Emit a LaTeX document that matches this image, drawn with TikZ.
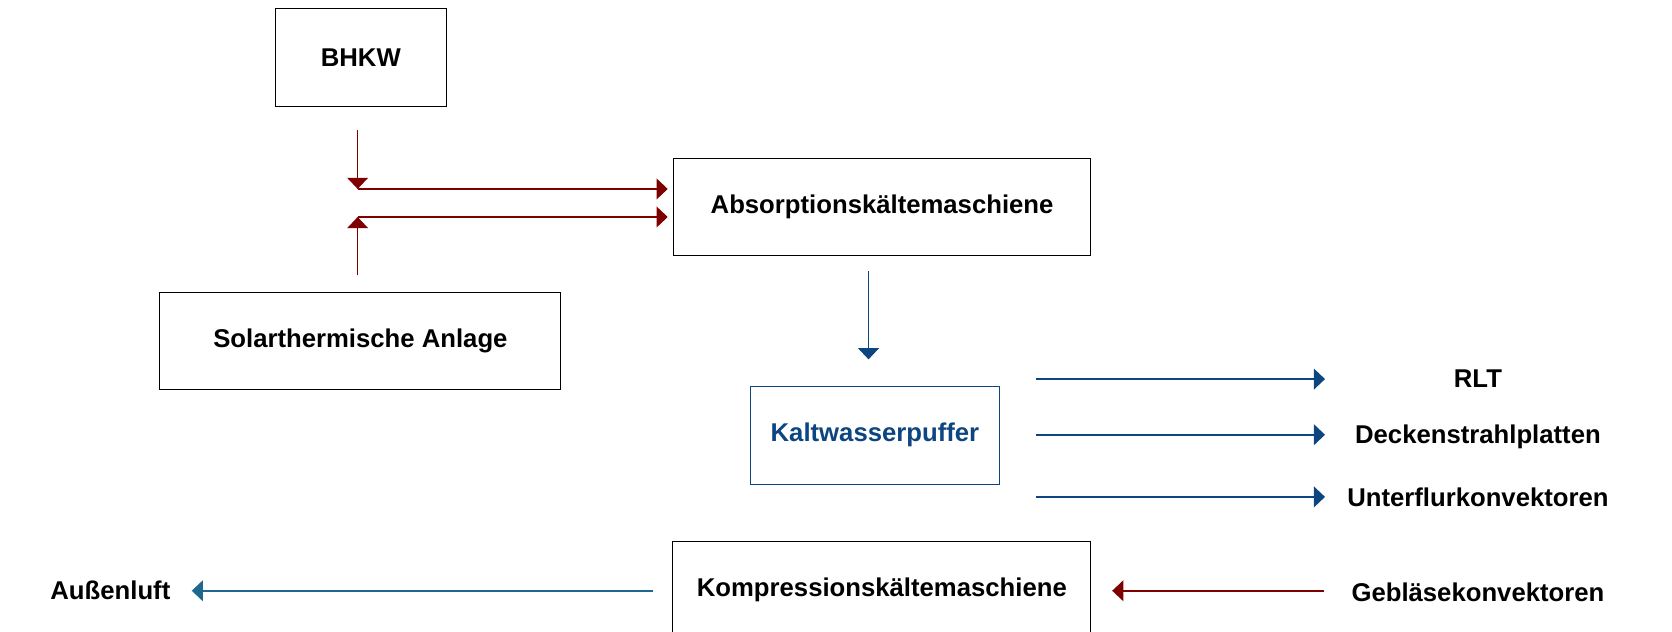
\documentclass[tikz,border=0pt]{standalone}
\usepackage{fontspec}
\setmainfont{Liberation Sans}
\usetikzlibrary{arrows.meta}
\definecolor{dred}{HTML}{7F0000}
\definecolor{dblue}{HTML}{0C4580}
\definecolor{tealb}{HTML}{1E6890}
\begin{document}
\begin{tikzpicture}[x=1pt,y=-1pt,
  box/.style={draw=black,line width=0.9pt,rectangle,inner sep=0pt,font=\fontsize{24.1}{29}\selectfont\bfseries},
  lbl/.style={inner sep=0pt,font=\fontsize{24.1}{29}\selectfont\bfseries},
  redarr/.style={draw=dred,line width=1.5pt,-{Triangle[length=10.5pt,width=19.5pt]}},
  bluearr/.style={draw=dblue,line width=1.5pt,-{Triangle[length=10.5pt,width=19.5pt]}},
  tealarr/.style={draw=tealb,line width=1.5pt,-{Triangle[length=10.5pt,width=19.5pt]}}]
\useasboundingbox (0,0) rectangle (1568,592);
\node[box,minimum width=160.4pt,minimum height=91.9pt] (bhkw) at (338.4,53.8) {BHKW};
\node[box,minimum width=391.5pt,minimum height=91.5pt] (abs) at (827.2,194.2) {Absorptionskältemaschiene};
\node[box,minimum width=376pt,minimum height=91pt] (solar) at (338,319.5) {Solarthermische Anlage};
\node[box,draw=dblue,text=dblue,minimum width=233pt,minimum height=92pt] (kwp) at (820.5,408) {Kaltwasserpuffer};
\node[box,minimum width=392pt,minimum height=91pt] (komp) at (827,553.5) {};
\node[lbl] (kompt) at (827,553.5) {Kompressionskältemaschiene};
\node[lbl] (rlt) at (1386,355.5) {RLT};
\node[lbl] (decke) at (1386,409.5) {Deckenstrahlplatten};
\node[lbl] (unter) at (1386,466) {Unterflurkonvektoren};
\node[lbl] (gebl) at (1386,555.5) {Gebläsekonvektoren};
\node[lbl] (aussen) at (103.5,554) {Außenluft};
% red connectors
\coordinate (r1s) at (335.4,122);
\coordinate (r1e) at (335.4,177.2);
\coordinate (h1e) at (626.2,177.2);
\coordinate (r2s) at (335.4,258.2);
\coordinate (r2e) at (335.4,203.5);
\coordinate (h2e) at (626.2,203.5);
\draw[redarr] (r1s) -- (r1e);
\draw[redarr] (r1e) -- (h1e);
\draw[redarr] (r2s) -- (r2e);
\draw[redarr] (r2e) -- (h2e);
% blue connectors
\coordinate (bds) at (814.5,254);
\coordinate (bde) at (814.5,337);
\draw[bluearr] (bds) -- (bde);
\coordinate (o1s) at (972,355.5);
\coordinate (o1e) at (1242.6,355.5);
\coordinate (o2s) at (972,407.7);
\coordinate (o2e) at (1242.6,407.7);
\coordinate (o3s) at (972,466);
\coordinate (o3e) at (1242.6,466);
\draw[bluearr] (o1s) -- (o1e);
\draw[bluearr] (o2s) -- (o2e);
\draw[bluearr] (o3s) -- (o3e);
% bottom row
\coordinate (as) at (612,554);
\coordinate (ae) at (179.8,554);
\draw[tealarr] (as) -- (ae);
\coordinate (gs) at (1242,554);
\coordinate (ge) at (1043,554);
\draw[redarr] (gs) -- (ge);
\end{tikzpicture}
\end{document}
